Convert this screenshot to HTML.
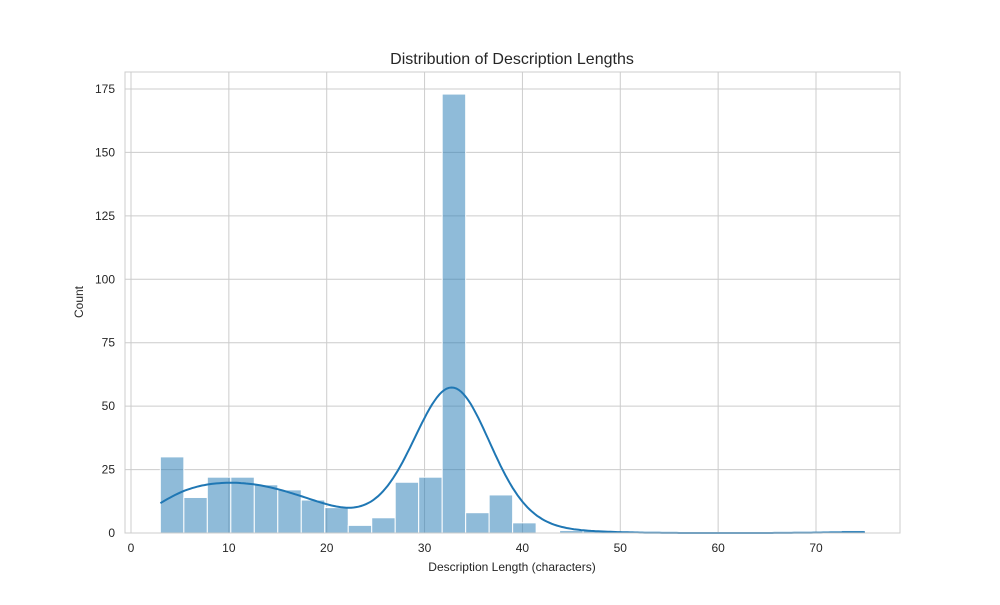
<!DOCTYPE html>
<html><head><meta charset="utf-8"><style>
body{margin:0;background:#fff;font-family:"Liberation Sans",sans-serif}
</style></head><body>
<svg id="c" width="1000" height="600" font-family="Liberation Sans, sans-serif"></svg>
<script>
const binStart=3, binWidth=2.4;
const counts=[30,14,22,22,19,17,13,10,3,6,20,22,173,8,15,4,0,1,1,0,0,0,0,0,0,0,0,0,0,1];
const xTicks=[0,10,20,30,40,50,60,70];
const yTicks=[0,25,50,75,100,125,150,175];
const bw=3.55;
const NS="http://www.w3.org/2000/svg";
const svg=document.getElementById('c');
const L=125,R=900,T=72,B=533;
const X=v=>131+(v-0)*(816-131)/70;
const Y=v=>533-v*(533-89)/175;
function el(t,a,p){const e=document.createElementNS(NS,t);for(const k in a)e.setAttribute(k,a[k]);(p||svg).appendChild(e);return e;}
xTicks.forEach(t=>{
 const g=el('line',{x1:X(t),x2:X(t),y1:T,y2:B,stroke:'#cccccc','stroke-width':1});
 
 
 const tx=el('text',{x:X(t),y:B+19,'text-anchor':'middle','font-size':12,fill:'#262626'});tx.textContent=t;
 
 
});
yTicks.forEach(t=>{
 const g=el('line',{x1:L,x2:R,y1:Y(t),y2:Y(t),stroke:'#cccccc','stroke-width':1});
 
 
 const tx=el('text',{x:L-10,y:Y(t)+4,'text-anchor':'end','font-size':12,fill:'#262626'});tx.textContent=t;
 
 
});
counts.forEach((c,i)=>{
 if(c<=0)return;
 const x0=X(binStart+i*binWidth),x1=X(binStart+(i+1)*binWidth);
 const r=el('rect',{x:x0,y:Y(c),width:x1-x0,height:Y(0)-Y(c),fill:'rgba(31,119,180,0.5)',stroke:'#fff','stroke-width':1});
 
 
});
let pts=[];
for(let v=3;v<=75.001;v+=0.25){
 let s=0;counts.forEach((c,i)=>{const m=binStart+(i+0.5)*binWidth;const z=(v-m)/bw;s+=c*Math.exp(-0.5*z*z);});
 const d=s*binWidth/(bw*Math.sqrt(2*Math.PI));
 pts.push(X(v).toFixed(1)+','+Y(d).toFixed(1));
}
const k=el('polyline',{points:pts.join(' '),fill:'none',stroke:'#1f77b4','stroke-width':2});


const f=el('rect',{x:L,y:T,width:R-L,height:B-T,fill:'none',stroke:'#cccccc','stroke-width':1});


const ti=el('text',{x:512,y:64,'text-anchor':'middle','font-size':16,fill:'#262626'});ti.textContent='Distribution of Description Lengths';


const xl=el('text',{x:512,y:571,'text-anchor':'middle','font-size':12,fill:'#262626'});xl.textContent='Description Length (characters)';


const yl=el('text',{x:83,y:302,'text-anchor':'middle','font-size':12,fill:'#262626',transform:'rotate(-90 83 302)'});yl.textContent='Count';


</script>
</body></html>
